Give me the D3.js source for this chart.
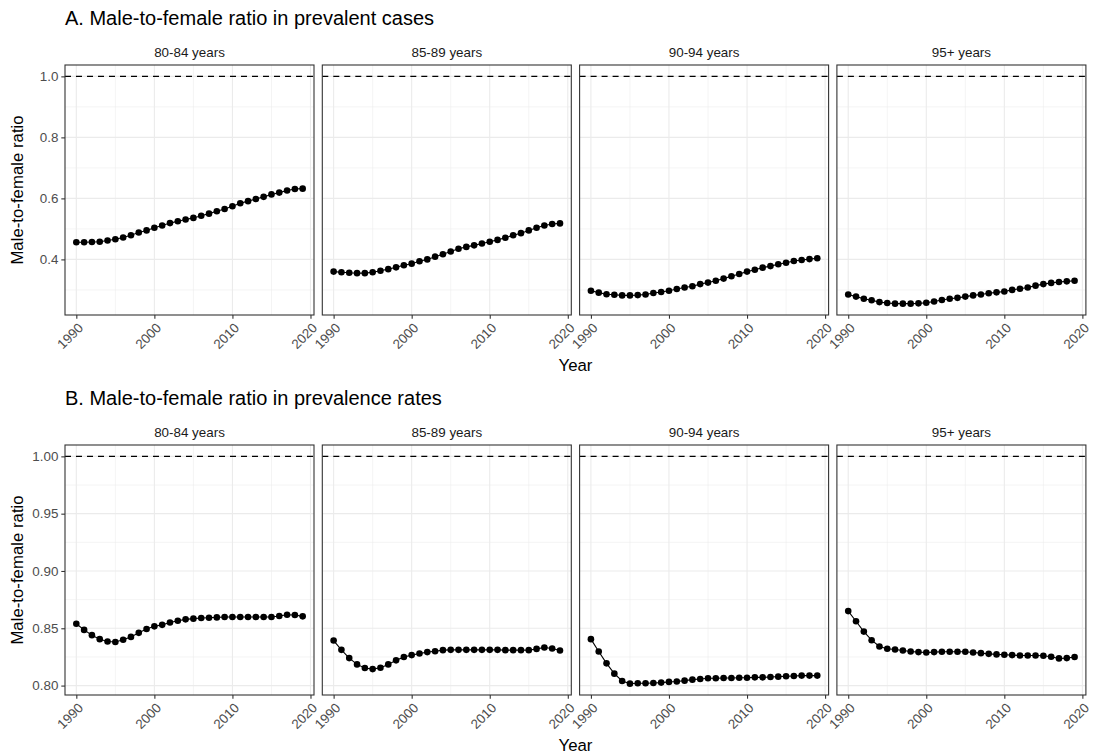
<!DOCTYPE html>
<html>
<head>
  <meta charset="utf-8">
  <style>
    body { margin: 0; background: #fff; }
    svg { display: block; font-family: "Liberation Sans", Arial, sans-serif; }
  </style>
</head>
<body>
  <div id="chart"></div>
  <script src="https://d3js.org/d3.v7.min.js"></script>
  <script>
    // ---- data ----
    var years = [1990, 1991, 1992, 1993, 1994, 1995, 1996, 1997, 1998, 1999,
                 2000, 2001, 2002, 2003, 2004, 2005, 2006, 2007, 2008, 2009,
                 2010, 2011, 2012, 2013, 2014, 2015, 2016, 2017, 2018, 2019];
    var ageGroups = ["80-84 years", "85-89 years", "90-94 years", "95+ years"];

    // A. ratio in prevalent cases
    var cases_80_84 = [0.456, 0.456, 0.457, 0.458, 0.462, 0.466, 0.472, 0.479, 0.488, 0.495,
                       0.504, 0.511, 0.519, 0.525, 0.531, 0.536, 0.543, 0.550, 0.558, 0.565,
                       0.574, 0.584, 0.591, 0.598, 0.605, 0.613, 0.619, 0.626, 0.631, 0.632];
    var cases_85_89 = [0.360, 0.358, 0.356, 0.355, 0.355, 0.358, 0.363, 0.368, 0.374, 0.381,
                       0.386, 0.394, 0.400, 0.409, 0.417, 0.426, 0.435, 0.441, 0.446, 0.452,
                       0.458, 0.464, 0.471, 0.479, 0.486, 0.495, 0.504, 0.511, 0.516, 0.518];
    var cases_90_94 = [0.297, 0.291, 0.286, 0.284, 0.282, 0.282, 0.283, 0.285, 0.290, 0.293,
                       0.297, 0.303, 0.308, 0.312, 0.319, 0.324, 0.330, 0.337, 0.345, 0.352,
                       0.360, 0.366, 0.373, 0.378, 0.384, 0.389, 0.395, 0.398, 0.401, 0.404];
    var cases_95p   = [0.285, 0.278, 0.271, 0.266, 0.260, 0.257, 0.255, 0.255, 0.255, 0.256,
                       0.258, 0.262, 0.267, 0.271, 0.274, 0.278, 0.282, 0.285, 0.289, 0.292,
                       0.295, 0.300, 0.304, 0.308, 0.314, 0.319, 0.323, 0.326, 0.328, 0.330];

    // B. ratio in prevalence rates
    var rates_80_84 = [0.8540, 0.8486, 0.8440, 0.8405, 0.8384, 0.8380, 0.8400, 0.8425, 0.8460, 0.8494,
                       0.8517, 0.8530, 0.8550, 0.8566, 0.8578, 0.8584, 0.8590, 0.8592, 0.8595, 0.8598,
                       0.8598, 0.8598, 0.8598, 0.8598, 0.8598, 0.8598, 0.8607, 0.8618, 0.8616, 0.8604];
    var rates_85_89 = [0.8393, 0.8312, 0.8240, 0.8185, 0.8153, 0.8144, 0.8156, 0.8185, 0.8220, 0.8249,
                       0.8266, 0.8280, 0.8292, 0.8300, 0.8309, 0.8312, 0.8312, 0.8312, 0.8312, 0.8312,
                       0.8312, 0.8312, 0.8309, 0.8309, 0.8309, 0.8309, 0.8320, 0.8332, 0.8324, 0.8306];
    var rates_90_94 = [0.8405, 0.8298, 0.8194, 0.8104, 0.8040, 0.8017, 0.8020, 0.8020, 0.8023, 0.8026,
                       0.8032, 0.8035, 0.8043, 0.8052, 0.8058, 0.8064, 0.8064, 0.8066, 0.8066, 0.8069,
                       0.8069, 0.8072, 0.8072, 0.8075, 0.8078, 0.8081, 0.8084, 0.8087, 0.8087, 0.8087];
    var rates_95p   = [0.8650, 0.8561, 0.8471, 0.8396, 0.8341, 0.8321, 0.8315, 0.8306, 0.8298, 0.8292,
                       0.8289, 0.8292, 0.8295, 0.8295, 0.8295, 0.8295, 0.8289, 0.8283, 0.8277, 0.8272,
                       0.8269, 0.8266, 0.8263, 0.8263, 0.8263, 0.8260, 0.8251, 0.8237, 0.8240, 0.8249];

    var xTicks = [1990, 2000, 2010, 2020];
    var xMinor = [1995, 2005, 2015];
    var refLine = 1.0;

    var rows = [
      { title: "A. Male-to-female ratio in prevalent cases",
        series: [cases_80_84, cases_85_89, cases_90_94, cases_95p],
        ticks: [0.4, 0.6, 0.8, 1.0], minor: [0.3, 0.5, 0.7, 0.9], fmt: d3.format(".1f"),
        top: 65 },
      { title: "B. Male-to-female ratio in prevalence rates",
        series: [rates_80_84, rates_85_89, rates_90_94, rates_95p],
        ticks: [0.80, 0.85, 0.90, 0.95, 1.00], minor: [0.825, 0.875, 0.925, 0.975], fmt: d3.format(".2f"),
        top: 445 }
    ];

    // ---- layout ----
    var W = 1094, H = 756;
    var panelLeft = 65, panelW = 249, panelGap = 8.3, panelH = 250;
    var gridCol = "#ebebeb";
    var fsTitle = "20px", fsAxisTitle = "16.8px", fsSmall = "13.4px";

    var svg = d3.select("#chart").append("svg")
        .attr("width", W)
        .attr("height", H);

    // ggplot style 5% expansion
    function expand(lo, hi) {
      var d = (hi - lo) * 0.05;
      return [lo - d, hi + d];
    }

    var x = d3.scaleLinear()
        .domain(expand(d3.min(years), d3.max(years)))
        .range([0, panelW]);

    rows.forEach(function(row) {
      var all = d3.merge(row.series).concat([refLine]);
      var y = d3.scaleLinear()
          .domain(expand(d3.min(all), d3.max(all)))
          .range([panelH, 0]);

      var g = svg.append("g").attr("transform", "translate(0," + row.top + ")");

      g.append("text")
          .attr("x", panelLeft)
          .attr("y", -40)
          .attr("font-size", fsTitle)
          .attr("fill", "#000")
          .text(row.title);

      g.append("text")
          .attr("transform", "translate(23," + (panelH / 2) + ") rotate(-90)")
          .attr("text-anchor", "middle")
          .attr("font-size", fsAxisTitle)
          .attr("fill", "#000")
          .text("Male-to-female ratio");

      var lastX = panelLeft + 3 * (panelW + panelGap) + panelW;
      g.append("text")
          .attr("x", (panelLeft + lastX) / 2)
          .attr("y", panelH + 56)
          .attr("text-anchor", "middle")
          .attr("font-size", fsAxisTitle)
          .attr("fill", "#000")
          .text("Year");

      row.series.forEach(function(vals, i) {
        var px = panelLeft + i * (panelW + panelGap);
        var p = g.append("g").attr("transform", "translate(" + px + ",0)");
        var pts = years.map(function(yr, k) { return { year: yr, v: vals[k] }; });

        // strip label
        p.append("text")
            .attr("x", panelW / 2)
            .attr("y", -8)
            .attr("text-anchor", "middle")
            .attr("font-size", fsSmall)
            .attr("fill", "#1a1a1a")
            .text(ageGroups[i]);

        // grid
        p.selectAll("line.ymin").data(row.minor).enter().append("line")
            .attr("x1", 0).attr("x2", panelW)
            .attr("y1", d => y(d)).attr("y2", d => y(d))
            .attr("stroke", gridCol).attr("stroke-width", 0.55);
        p.selectAll("line.xmin").data(xMinor).enter().append("line")
            .attr("y1", 0).attr("y2", panelH)
            .attr("x1", d => x(d)).attr("x2", d => x(d))
            .attr("stroke", gridCol).attr("stroke-width", 0.55);
        p.selectAll("line.ymaj").data(row.ticks).enter().append("line")
            .attr("x1", 0).attr("x2", panelW)
            .attr("y1", d => y(d)).attr("y2", d => y(d))
            .attr("stroke", gridCol).attr("stroke-width", 1.1);
        p.selectAll("line.xmaj").data(xTicks).enter().append("line")
            .attr("y1", 0).attr("y2", panelH)
            .attr("x1", d => x(d)).attr("x2", d => x(d))
            .attr("stroke", gridCol).attr("stroke-width", 1.1);

        // reference line
        p.append("line")
            .attr("x1", 0).attr("x2", panelW)
            .attr("y1", y(refLine)).attr("y2", y(refLine))
            .attr("stroke", "#000")
            .attr("stroke-width", 1.3)
            .attr("stroke-dasharray", "6,5");

        // series
        p.append("path")
            .datum(pts)
            .attr("fill", "none")
            .attr("stroke", "#000")
            .attr("stroke-width", 1.1)
            .attr("d", d3.line().x(d => x(d.year)).y(d => y(d.v)));
        p.selectAll("circle").data(pts).enter().append("circle")
            .attr("cx", d => x(d.year))
            .attr("cy", d => y(d.v))
            .attr("r", 3.3)
            .attr("fill", "#000");

        // border
        p.append("rect")
            .attr("width", panelW).attr("height", panelH)
            .attr("fill", "none")
            .attr("stroke", "#333333")
            .attr("stroke-width", 1.1);

        // x axis
        var xa = p.append("g")
            .attr("transform", "translate(0," + panelH + ")")
            .call(d3.axisBottom(x).tickValues(xTicks).tickFormat(d3.format("d")).tickSize(3.7).tickSizeOuter(0));
        xa.select(".domain").remove();
        xa.selectAll("line").attr("stroke", "#333333").attr("stroke-width", 1.1);
        xa.selectAll("text")
            .attr("font-family", "Liberation Sans, Arial, sans-serif")
            .attr("font-size", fsSmall)
            .attr("fill", "#4d4d4d")
            .attr("text-anchor", "end")
            .attr("y", 0)
            .attr("dy", "0.75em")
            .attr("transform", "translate(0,6.6) rotate(-45)");

        // y axis only on the first panel
        if (i === 0) {
          var ya = p.append("g")
              .call(d3.axisLeft(y).tickValues(row.ticks).tickFormat(row.fmt).tickSize(3.7).tickSizeOuter(0));
          ya.select(".domain").remove();
          ya.selectAll("line").attr("stroke", "#333333").attr("stroke-width", 1.1);
          ya.selectAll("text")
              .attr("font-family", "Liberation Sans, Arial, sans-serif")
              .attr("font-size", fsSmall)
              .attr("fill", "#4d4d4d")
              .attr("x", -6.6);
        }
      });
    });
  </script>
</body>
</html>
